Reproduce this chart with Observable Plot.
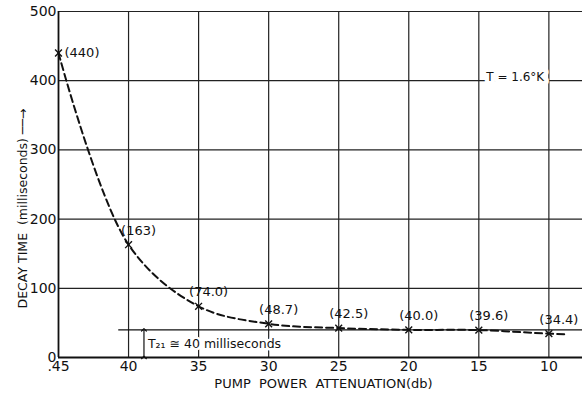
<!DOCTYPE html>
<html><head><meta charset="utf-8">
<script src="https://cdn.jsdelivr.net/npm/d3@7"></script>
<script src="https://cdn.jsdelivr.net/npm/@observablehq/plot@0.6"></script>
<style>
body{margin:0;background:#fff;}
svg{font-family:"DejaVu Sans",sans-serif;}
</style></head><body>
<div id="chart"></div>
<script>
// Data
const attenuation = [45, 40, 35, 30, 25, 20, 15, 10];          // db
const decayTime  = [440, 163, 74.0, 48.7, 42.5, 40.0, 39.6, 34.4]; // ms
const pointLabels = ["(440)", "(163)", "(74.0)", "(48.7)", "(42.5)", "(40.0)", "(39.6)", "(34.4)"];
const tailX = [8.9], tailY = [33.6];   // dashed curve continues slightly past 10 db
const xTicks = [45, 40, 35, 30, 25, 20, 15, 10];
const xTickLabels = [".45", "40", "35", "30", "25", "20", "15", "10"];
const yTicks = [0, 100, 200, 300, 400, 500];
const t21 = 40;               // ms asymptote
const t21LineStart = 40.7;    // db where horizontal line starts
const t21ArrowX = 38.9;       // db
const tempLabel = "T = 1.6°K";
const tempAt = {x: 12.4, y: 405};

const pts = attenuation.map((x, i) => ({x, y: decayTime[i], label: pointLabels[i]}));
const curve = pts.concat(tailX.map((x, i) => ({x, y: tailY[i]})));

const chart = Plot.plot({
  width: 582, height: 399,
  marginLeft: 58, marginRight: 0, marginTop: 11, marginBottom: 42,
  x: {domain: [45, 7.6]},
  y: {domain: [0, 500]},
  style: {fontFamily: "DejaVu Sans, sans-serif", background: "white", color: "#111"},
  marks: [
    Plot.ruleY(yTicks.filter(d => d > 0), {stroke: "#222", strokeWidth: 1.2}),
    Plot.ruleX(xTicks.slice(1), {stroke: "#222", strokeWidth: 1.2}),
    Plot.ruleX([45], {stroke: "#111", strokeWidth: 1.8}),
    Plot.ruleY([0], {stroke: "#111", strokeWidth: 2}),
    Plot.axisX({ticks: xTicks, tickSize: 0, tickPadding: 4, fontSize: 14,
      tickFormat: d => xTickLabels[xTicks.indexOf(d)], label: null, letterSpacing: 1}),
    Plot.axisY({ticks: yTicks, tickSize: 0, tickPadding: 2, fontSize: 14, label: null}),
    // asymptote line
    Plot.ruleY([t21], {x1: t21LineStart, x2: 7.6, stroke: "#111", strokeWidth: 1.3}),
    // annotation text with halo
    Plot.text([`T₂₁ ≅ ${t21} milliseconds`], {x: t21ArrowX, y: t21 / 2, dx: 4, textAnchor: "start",
      fontSize: 12.5, fill: "#111", stroke: "white", strokeWidth: 5, paintOrder: "stroke"}),
    Plot.link([{x: t21ArrowX, y1: 0, y2: t21}], {x1: "x", x2: "x", y1: "y1", y2: "y2",
      stroke: "#111", strokeWidth: 1.2, markerStart: "arrow", markerEnd: "arrow"}),
    // temperature label
    Plot.text([tempLabel], {x: tempAt.x, y: tempAt.y, textAnchor: "middle",
      fontSize: 12, fill: "#111", stroke: "white", strokeWidth: 9, strokeLinejoin: "round", paintOrder: "stroke"}),
    // dashed curve
    Plot.line(curve, {x: "x", y: "y", curve: "catmull-rom", stroke: "#111", strokeWidth: 2, strokeDasharray: "7,4"}),
    Plot.dot(pts, {x: "x", y: "y", symbol: "times", r: 3.2, stroke: "#111", strokeWidth: 1.4}),
    Plot.text(pts.filter(d => d.x !== 45), {x: "x", y: "y", text: "label", dx: 10, dy: -14,
      fontSize: 13, fill: "#111"}),
    Plot.text(pts.filter(d => d.x === 45), {x: "x", y: "y", text: "label", dx: 6, textAnchor: "start",
      fontSize: 13, fill: "#111"}),
    // axis titles
    Plot.text(["DECAY TIME  (milliseconds) ──→"], {frameAnchor: "left", rotate: -90, dx: -36, dy: 24,
      textAnchor: "middle", fontSize: 12.5, fill: "#111"}),
    Plot.text(["PUMP  POWER  ATTENUATION(db)"], {frameAnchor: "bottom", dx: 3, dy: 30,
      textAnchor: "middle", fontSize: 13, fill: "#111"})
  ]
});
document.getElementById("chart").appendChild(chart);
</script></body></html>
